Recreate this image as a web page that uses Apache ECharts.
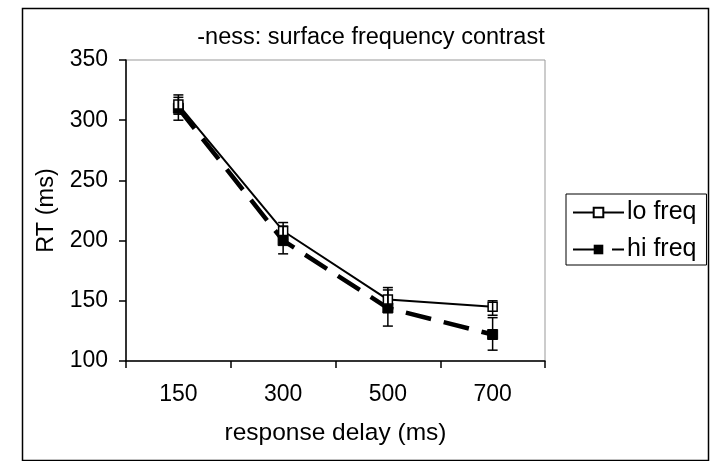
<!DOCTYPE html>
<html>
<head>
<meta charset="utf-8">
<script src="https://cdn.jsdelivr.net/npm/echarts@6/dist/echarts.min.js"></script>
<style>html,body{margin:0;padding:0;background:#fff;overflow:hidden}#c{width:100vw;height:100vh}</style>
</head>
<body>
<div id="c"></div>
<script>
var categories = ['150', '300', '500', '700'];
var yTicks = [100, 150, 200, 250, 300, 350];
var loFreq = [313, 208, 151, 145];
var hiFreq = [310, 200, 144, 122];
var loLow = [305, 201, 141, 138];
var loHigh = [321, 215, 161, 150];
var hiLow = [300, 189, 129, 109];
var hiHigh = [319, 212, 159, 136];

var FONT = '"Liberation Sans", Arial, Helvetica, sans-serif';
var chart = echarts.init(document.getElementById('c'));

function errData(lo, hi) {
  return categories.map(function (c, i) { return [i, lo[i], hi[i]]; });
}
function errRender(params, api) {
  var x = api.value(0);
  var p1 = api.coord([x, api.value(1)]);
  var p2 = api.coord([x, api.value(2)]);
  var w = 5;
  var st = { stroke: '#000', lineWidth: 1.5 };
  return {
    type: 'group',
    children: [
      { type: 'line', shape: { x1: p1[0], y1: p1[1], x2: p2[0], y2: p2[1] }, style: st },
      { type: 'line', shape: { x1: p1[0] - w, y1: p1[1], x2: p1[0] + w, y2: p1[1] }, style: st },
      { type: 'line', shape: { x1: p2[0] - w, y1: p2[1], x2: p2[0] + w, y2: p2[1] }, style: st }
    ]
  };
}

chart.setOption({
  animation: false,
  backgroundColor: '#fff',
  textStyle: { fontFamily: FONT, color: '#000' },
  title: {
    text: '-ness: surface frequency contrast',
    left: 366, top: 21, textAlign: 'center',
    textStyle: { fontFamily: FONT, fontSize: 23.5, fontWeight: 'normal', color: '#000' }
  },
  legend: {
    orient: 'vertical',
    left: 566, top: 194,
    padding: [6, 10, 3, 6],
    itemGap: 12,
    itemWidth: 51, itemHeight: 12,
    borderColor: '#000', borderWidth: 1,
    textStyle: { fontFamily: FONT, fontSize: 25, color: '#000', padding: [0, 0, 0, -2] },
    data: ['lo freq', 'hi freq']
  },
  grid: {
    left: 126, right: 166, top: 60, bottom: 100,
    show: true, borderColor: '#999', borderWidth: 1, backgroundColor: 'transparent'
  },
  xAxis: {
    type: 'category',
    data: categories,
    boundaryGap: true,
    name: 'response delay (ms)',
    nameLocation: 'middle',
    nameGap: 60,
    nameTextStyle: { fontFamily: FONT, fontSize: 24.5, color: '#000' },
    axisLine: { lineStyle: { color: '#000', width: 1.5 } },
    axisTick: { show: true, length: 7, alignWithLabel: false, lineStyle: { color: '#000', width: 1.5 } },
    axisLabel: { fontFamily: FONT, fontSize: 23, color: '#000', margin: 22 },
    splitLine: { show: false }
  },
  yAxis: {
    type: 'value',
    min: yTicks[0], max: yTicks[yTicks.length - 1], interval: 50,
    name: 'RT (ms)',
    nameLocation: 'middle',
    nameGap: 67,
    nameTextStyle: { fontFamily: FONT, fontSize: 23.5, color: '#000' },
    axisLine: { show: true, lineStyle: { color: '#000', width: 1.5 } },
    axisTick: { show: true, length: 7, lineStyle: { color: '#000', width: 1.5 } },
    axisLabel: { fontFamily: FONT, fontSize: 23, color: '#000', margin: 18 },
    splitLine: { show: false }
  },
  graphic: [{
    type: 'rect', left: 20, top: 6, silent: true, z: -10,
    shape: { width: 686, height: 452 },
    style: { fill: 'none', stroke: '#000', lineWidth: 1.5 }
  }],
  series: [
    {
      name: 'lo freq', type: 'line', data: loFreq,
      symbol: 'rect', symbolSize: 9, showAllSymbol: true,
      lineStyle: { color: '#000', width: 2 },
      itemStyle: { color: '#fff', borderColor: '#000', borderWidth: 1.5 },
      z: 3
    },
    {
      name: 'hi freq', type: 'line', data: hiFreq,
      symbol: 'rect', symbolSize: 10, showAllSymbol: true,
      lineStyle: { color: '#000', width: 4.5, type: [26, 13] },
      itemStyle: { color: '#000', borderColor: '#000' },
      z: 2
    },
    {
      type: 'custom', name: 'lo err', renderItem: errRender,
      data: errData(loLow, loHigh), z: 5, silent: true
    },
    {
      type: 'custom', name: 'hi err', renderItem: errRender,
      data: errData(hiLow, hiHigh), z: 5, silent: true
    }
  ]
});
</script>
</body>
</html>
